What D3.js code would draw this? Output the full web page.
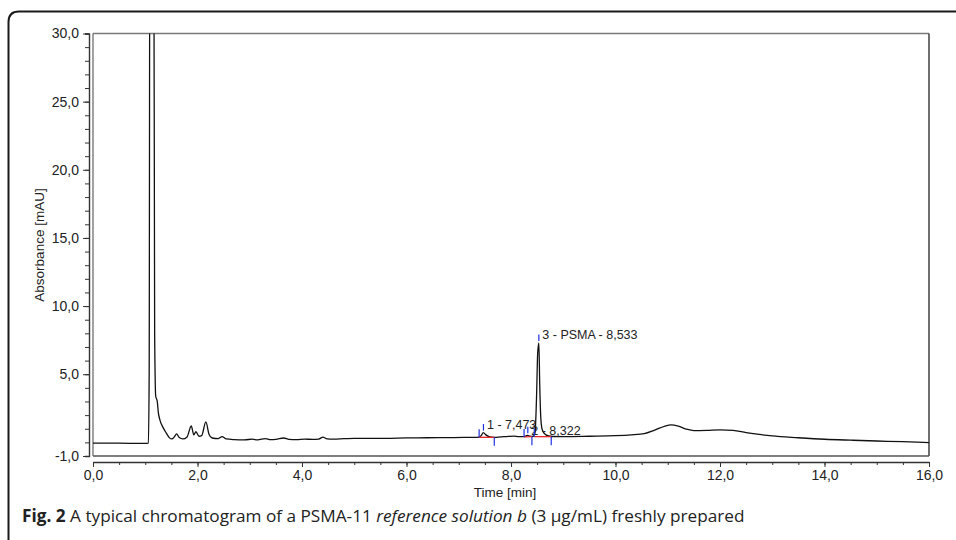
<!DOCTYPE html>
<html><head><meta charset="utf-8">
<script src="https://cdn.jsdelivr.net/npm/d3@7/dist/d3.min.js"></script>
<style>
html,body{margin:0;padding:0;background:#fff;}
svg{display:block;}
</style></head>
<body>
<svg id="chart" width="956" height="540"></svg>
<script>
// ---- data ----
const timeMin = [0.00,0.50,1.00,1.06,1.075,1.09,1.16,1.18,1.20,1.23,1.25,1.28,1.34,1.40,1.46,1.51,1.56,1.60,1.65,1.72,1.80,1.88,1.93,1.97,2.03,2.08,2.16,2.22,2.28,2.40,2.47,2.55,2.70,2.90,3.05,3.15,3.30,3.40,3.50,3.65,3.75,3.90,4.05,4.20,4.32,4.40,4.48,4.60,4.80,5.00,5.30,5.60,6.00,6.40,6.80,7.10,7.30,7.39,7.43,7.47,7.52,7.58,7.68,7.80,7.95,8.05,8.15,8.25,8.29,8.32,8.36,8.42,8.46,8.49,8.51,8.533,8.55,8.57,8.59,8.62,8.67,8.72,8.80,9.00,9.50,10.00,10.30,10.55,10.75,10.95,11.06,11.20,11.35,11.50,11.75,12.00,12.25,12.50,12.75,13.00,13.50,14.00,14.50,15.00,15.50,16.00];
const absorbance = [-0.05,-0.06,-0.08,-0.06,5.0,45.0,45.0,8.0,3.4,3.0,2.2,1.65,1.1,0.7,0.35,0.25,0.42,0.62,0.35,0.25,0.40,1.20,0.55,0.78,0.45,0.50,1.50,0.60,0.32,0.28,0.42,0.25,0.20,0.18,0.24,0.18,0.28,0.20,0.22,0.32,0.22,0.20,0.24,0.22,0.24,0.38,0.26,0.24,0.27,0.30,0.30,0.30,0.33,0.34,0.35,0.36,0.36,0.38,0.50,0.72,0.55,0.42,0.37,0.40,0.44,0.46,0.42,0.42,0.48,0.52,0.46,0.43,0.70,3.50,6.50,7.30,4.20,1.80,1.05,0.75,0.55,0.47,0.43,0.42,0.45,0.49,0.55,0.64,0.90,1.20,1.28,1.20,0.98,0.86,0.88,0.92,0.88,0.72,0.58,0.47,0.34,0.23,0.16,0.10,0.05,-0.02];

const peakLabels = ["1 - 7,473","2 - 8,322","3 - PSMA - 8,533"];
const peakStart = [7.39, 8.25, 8.446];
const peakTop   = [7.473, 8.322, 8.533];
const peakEnd   = [7.68, 8.40, 8.77];
const peakTopValue = [0.72, 0.52, 7.30];
const peakBaseStart = [0.37, 0.40, 0.42];
const peakBaseEnd   = [0.37, 0.42, 0.42];

const xTickValues = [0,2,4,6,8,10,12,14,16];
const yTickValues = [-1,5,10,15,20,25,30];

const xTitle = "Time [min]";
const yTitle = "Absorbance [mAU]";

// ---- layout ----
const svg = d3.select("#chart");
const L = 93, R = 929, T = 33.5, B = 456;
const x = d3.scaleLinear().domain([0,16]).range([L,R]);
const y = d3.scaleLinear().domain([-1,30]).range([B,T]);
const loc = d3.formatLocale({decimal:",", thousands:".", grouping:[3], currency:["",""], minus:"-"});
const fmt = loc.format(".1f");
const axisFont = "Liberation Sans, Arial, sans-serif";

// outer frame (top + left, rounded corner)
svg.append("path")
  .attr("d","M8.5,540 L8.5,22 Q8.5,11.5 19,11.5 L956,11.5")
  .attr("fill","none").attr("stroke","#1a1a1a").attr("stroke-width",2);

// clip
svg.append("defs").append("clipPath").attr("id","plotclip")
  .append("rect").attr("x",L).attr("y",T).attr("width",R-L).attr("height",B-T);

// plot box
svg.append("line").attr("x1",L).attr("x2",R).attr("y1",T).attr("y2",T).attr("stroke","#7a7a7a").attr("stroke-width",1.6);
svg.append("line").attr("x1",L).attr("x2",L).attr("y1",T).attr("y2",B).attr("stroke","#7a7a7a").attr("stroke-width",1.4);
svg.append("line").attr("x1",R).attr("x2",R).attr("y1",T).attr("y2",B).attr("stroke","#333").attr("stroke-width",1.4);
svg.append("line").attr("x1",L).attr("x2",R).attr("y1",B).attr("y2",B).attr("stroke","#555").attr("stroke-width",1.4);

// y axis
const yAxisG = svg.append("g").attr("transform","translate(89,0)");
yAxisG.call(d3.axisLeft(y).tickValues(d3.range(-1,31,1)).tickSize(4).tickFormat(""));
yAxisG.call(g=>{
  g.selectAll(".tick line").attr("stroke","#333");
  g.select(".domain").attr("stroke","#333").attr("stroke-width",1.4);
});
const yMajor = svg.append("g").attr("transform","translate(89,0)")
  .call(d3.axisLeft(y).tickValues(yTickValues).tickSize(6).tickPadding(4).tickFormat(fmt));
yMajor.select(".domain").remove();
yMajor.selectAll(".tick line").attr("stroke","#333");
yMajor.selectAll("text").attr("font-family",axisFont).attr("font-size",14).attr("fill","#222");

// x axis
const xAxisG = svg.append("g").attr("transform","translate(0,462)");
xAxisG.call(d3.axisBottom(x).tickValues(d3.range(0,16.01,0.5)).tickSize(3).tickFormat("").tickSizeOuter(0));
xAxisG.select(".domain").attr("stroke","#333").attr("stroke-width",1.4);
xAxisG.selectAll(".tick line").attr("stroke","#333");
const xMajor = svg.append("g").attr("transform","translate(0,462)")
  .call(d3.axisBottom(x).tickValues(xTickValues).tickSize(5).tickPadding(3).tickFormat(fmt));
xMajor.select(".domain").remove();
xMajor.selectAll(".tick line").attr("stroke","#333");
xMajor.selectAll("text").attr("font-family",axisFont).attr("font-size",14).attr("fill","#222");

// axis titles
svg.append("text").attr("x",505).attr("y",497).attr("text-anchor","middle")
  .attr("font-family",axisFont).attr("font-size",13.5).attr("fill","#222").text(xTitle);
svg.append("text").attr("transform","translate(44,245) rotate(-90)").attr("text-anchor","middle")
  .attr("font-family",axisFont).attr("font-size",13.5).attr("fill","#222").text(yTitle);

// trace
const pts = timeMin.map((t,i)=>[t,absorbance[i]]);
const line = d3.line().x(d=>x(d[0])).y(d=>y(d[1])).curve(d3.curveMonotoneX);
svg.append("g").attr("clip-path","url(#plotclip)")
  .append("path").datum(pts).attr("d",line)
  .attr("fill","none").attr("stroke","#111").attr("stroke-width",1.3).attr("stroke-linejoin","round");

// peak annotation
const ann = svg.append("g");
peakLabels.forEach((lab,i)=>{
  ann.append("line").attr("x1",x(peakStart[i])).attr("x2",x(peakEnd[i]))
    .attr("y1",y(peakBaseStart[i])).attr("y2",y(peakBaseEnd[i]))
    .attr("stroke","#e8262a").attr("stroke-width",1.3);
});
peakLabels.forEach((lab,i)=>{
  const ys = y(peakBaseStart[i]), ye = y(peakBaseEnd[i]), yt = y(peakTopValue[i]);
  ann.append("line").attr("x1",x(peakStart[i])).attr("x2",x(peakStart[i]))
    .attr("y1",ys-8).attr("y2",ys).attr("stroke","#1f2fe0").attr("stroke-width",1.2);
  ann.append("line").attr("x1",x(peakEnd[i])).attr("x2",x(peakEnd[i]))
    .attr("y1",ye).attr("y2",ye+8.5).attr("stroke","#1f2fe0").attr("stroke-width",1.2);
  ann.append("line").attr("x1",x(peakTop[i])).attr("x2",x(peakTop[i]))
    .attr("y1",yt-8.5).attr("y2",yt-2).attr("stroke","#1f2fe0").attr("stroke-width",1.2);
  const dy = i===1 ? 8.5 : 4.5;
  ann.append("text").attr("x",x(peakTop[i])+3.5).attr("y",yt-8.5+dy)
    .attr("font-family",axisFont).attr("font-size",12.5).attr("fill","#222").text(lab);
});

// caption
const cap = svg.append("text").attr("x",22).attr("y",522)
  .attr("font-family","'Open Sans', 'Noto Sans', sans-serif").attr("font-size",17.2).attr("fill","#222");
cap.append("tspan").attr("font-weight","bold").text("Fig. 2");
cap.append("tspan").text(" A typical chromatogram of a PSMA-11 ");
cap.append("tspan").attr("font-style","italic").text("reference solution b");
cap.append("tspan").text(" (3 μg/mL) freshly prepared");
</script>
</body></html>
